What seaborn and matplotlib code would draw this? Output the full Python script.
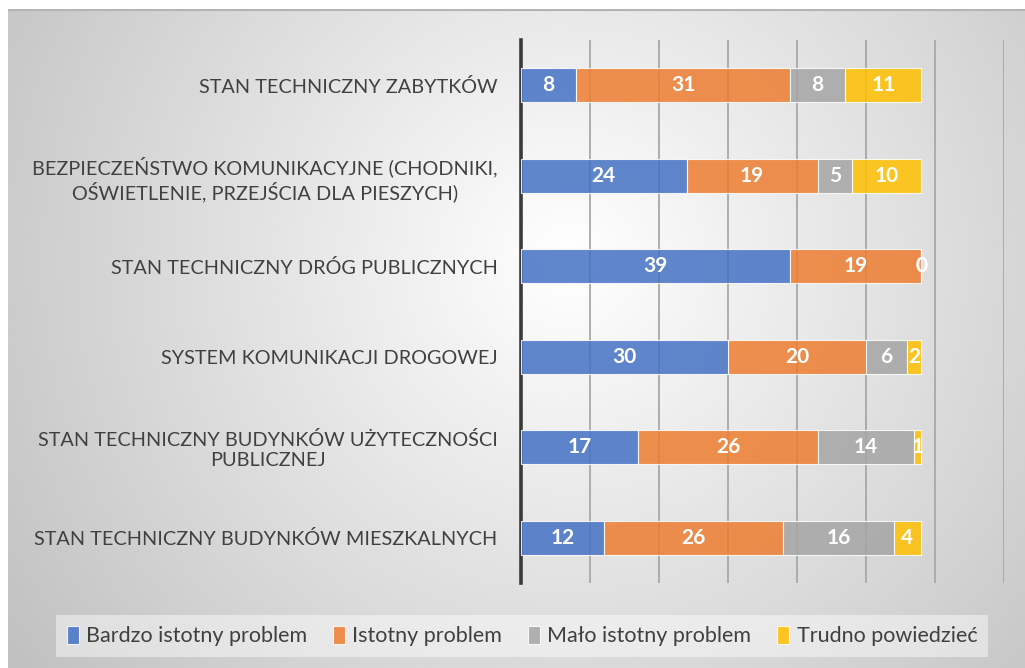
import numpy as np
import pandas as pd
import matplotlib
matplotlib.use("Agg")
import matplotlib.pyplot as plt
import seaborn as sns

# values
categories = [
    "STAN TECHNICZNY ZABYTKÓW",
    "BEZPIECZEŃSTWO KOMUNIKACYJNE (CHODNIKI,\nOŚWIETLENIE, PRZEJŚCIA DLA PIESZYCH)",
    "STAN TECHNICZNY DRÓG PUBLICZNYCH",
    "SYSTEM KOMUNIKACJI DROGOWEJ",
    "STAN TECHNICZNY BUDYNKÓW UŻYTECZNOŚCI\nPUBLICZNEJ",
    "STAN TECHNICZNY BUDYNKÓW MIESZKALNYCH",
]
bardzo_istotny = [8, 24, 39, 30, 17, 12]
istotny = [31, 19, 19, 20, 26, 26]
malo_istotny = [8, 5, 0, 6, 14, 16]
trudno = [11, 10, 0, 2, 1, 4]

series_names = ["Bardzo istotny problem", "Istotny problem",
                "Mało istotny problem", "Trudno powiedzieć"]
series_values = [bardzo_istotny, istotny, malo_istotny, trudno]
colors = ["#4472C4", "#ED7D31", "#A5A5A5", "#FFC000"]

sns.set_theme(style="white")
plt.rcParams["font.family"] = ["Lato", "DejaVu Sans"]

W, H = 1025, 668
fig = plt.figure(figsize=(W / 100, H / 100), dpi=100)
fig.patch.set_facecolor("white")

# radial grey gradient behind the chart (pixel space)
bg = fig.add_axes([8 / W, 0, 1 - 8 / W, (H - 9) / H])
px, py = np.meshgrid(np.linspace(8, W, 400), np.linspace(9, H, 300))
dist = np.hypot(px - 570, py - 260)
shade = 1.0 - 0.25 * np.clip(dist / 700, 0, 1)
bg.imshow(shade, cmap="gray", vmin=0, vmax=1, aspect="auto",
          extent=(0, 1, 1, 0), interpolation="bicubic")
bg.axhline(0.002, color="#b4b4b4", linewidth=1.5)
bg.set_xlim(0, 1)
bg.set_ylim(1, 0)
bg.axis("off")

ax = fig.add_axes([521 / W, 1 - 583 / H, 483 / W, 543 / H])
ax.patch.set_alpha(0)

df = pd.DataFrame({"category": categories})
left = np.zeros(len(categories))
for name, vals, col in zip(series_names, series_values, colors):
    df[name] = vals
    sns.barplot(data=df, x=name, y="category", order=categories, left=left,
                color=col, alpha=0.85, width=0.38, edgecolor="white",
                linewidth=0.8, saturation=1, label=name, ax=ax, zorder=3)
    left = left + np.array(vals)

for cont in ax.containers:
    ax.bar_label(cont, label_type="center", fmt="%g", color="white",
                 fontsize=15, fontweight="bold")

ax.set_xlim(0, 70)
ax.set_ylim(5.5, -0.5)
ax.set_xticks(np.arange(10, 71, 10))
ax.xaxis.grid(True, color="#a8a8a8", linewidth=1.3, zorder=0)
ax.set_axisbelow(True)
ax.set_xticklabels([])
ax.set_xlabel("")
ax.set_ylabel("")
ax.tick_params(axis="both", length=0)
ax.tick_params(axis="y", pad=17)
for lbl in ax.get_yticklabels():
    lbl.set_fontsize(14.3)
    lbl.set_color("#404040")
    lbl.set_multialignment("center")
for side in ["top", "right", "bottom"]:
    ax.spines[side].set_visible(False)
ax.spines["left"].set_color("#3a3a3a")
ax.spines["left"].set_linewidth(2.6)

handles, labels = ax.get_legend_handles_labels()
if ax.legend_:
    ax.legend_.remove()
leg = fig.legend(handles, labels, loc="center", bbox_to_anchor=(522 / W, 1 - 636 / H),
                 ncol=4, fontsize=15.5, frameon=True, fancybox=False,
                 handlelength=0.55, handleheight=0.9, handletextpad=0.35,
                 columnspacing=1.2, borderpad=0.5)
leg.get_frame().set_facecolor("white")
leg.get_frame().set_alpha(0.45)
leg.get_frame().set_edgecolor("none")
for t in leg.get_texts():
    t.set_color("#404040")

fig.savefig("out.png", dpi=100, facecolor=fig.get_facecolor())
